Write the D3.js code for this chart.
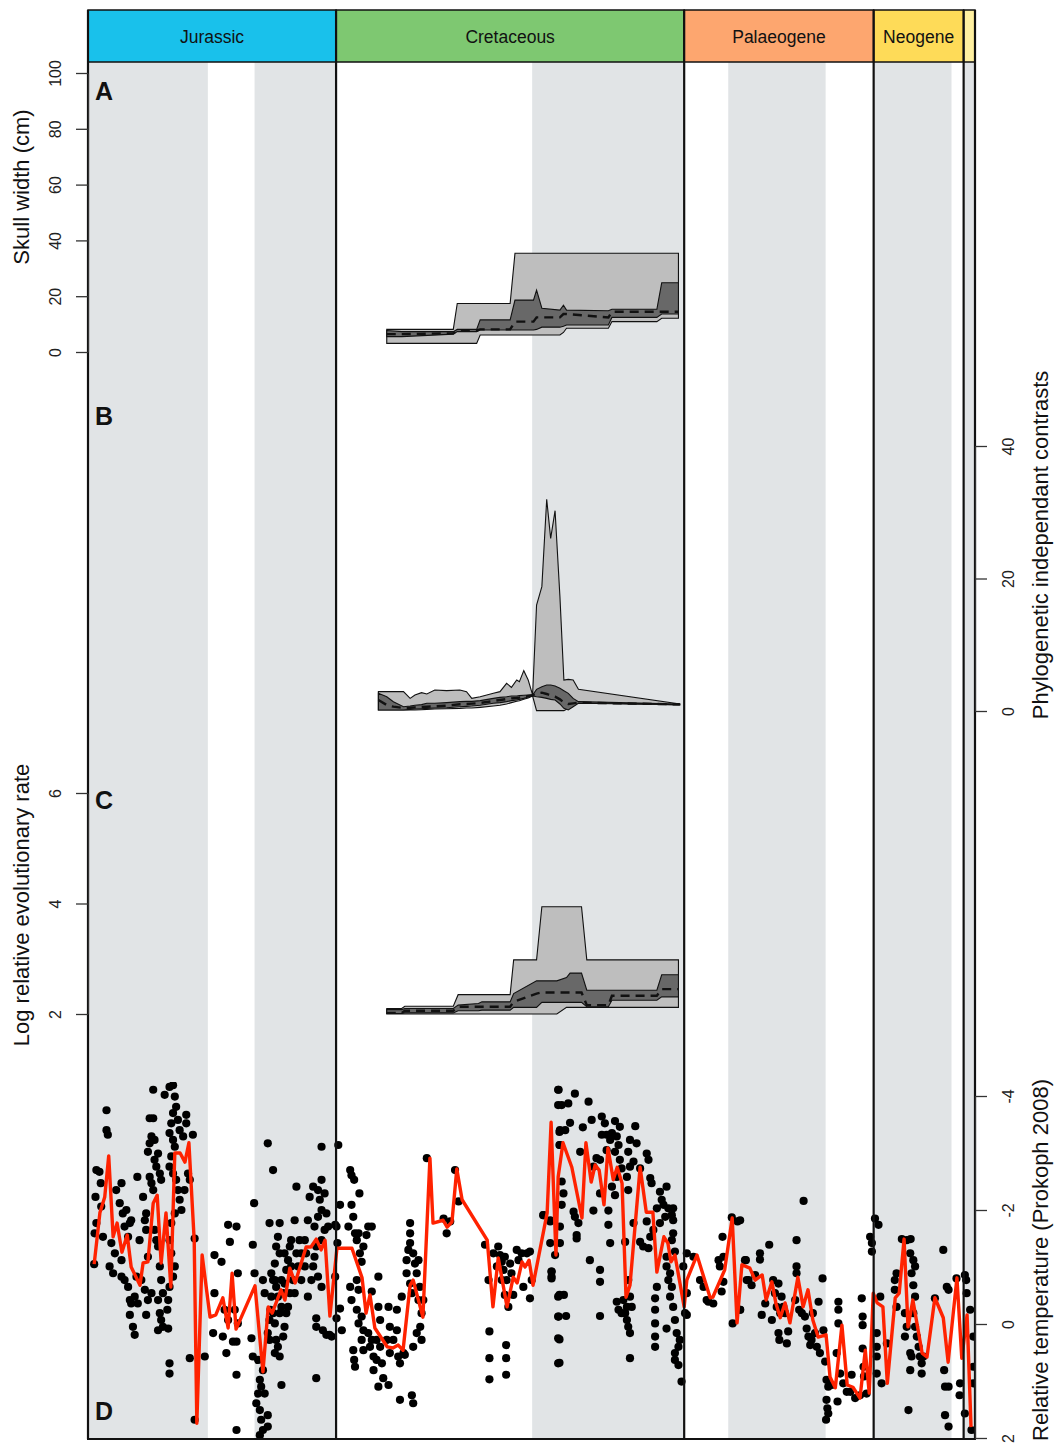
<!DOCTYPE html>
<html><head><meta charset="utf-8">
<script src="https://cdn.jsdelivr.net/npm/d3@7"></script>
<style>body{margin:0;background:#fff} text{font-family:"Liberation Sans",Arial,Helvetica,sans-serif}</style>
</head><body><svg id="c" width="1055" height="1445"></svg>
<script>
// ---- time scale ----
const periodNames = ["Jurassic","Cretaceous","Palaeogene","Neogene",""];
const periodBounds = [201.3,145,66,23,2.58,0];
const periodColors = ["#19C1EB","#7EC871","#FDA66F","#FEDB58","#FFF0A0"];
const stageBounds = [201.3,174.1,163.5,145,100.5,66,56,33.9,23,5.333,2.58,0];
const stageShaded = [1,0,1,0,1,0,1,0,1,0,1];

// ---- Panel A: skull width (cm) ----
const agesA = [133.5,130.1,118.4,117.5,113.1,112.3,105.5,104.4,100.2,99.5,98.3,94.2,93.4,92.7,83.2,82.4,72.2,71.1,67.3];
const outerMaxA = [8.1,8.1,8.1,17.4,17.4,17.4,17.4,35.4,35.4,35.4,35.4,35.4,35.4,35.4,35.4,35.4,35.4,35.4,35.4];
const outerMinA = [3.1,3.1,3.1,3.1,3.1,6.1,6.1,6.1,6.1,6.1,6.1,6.1,7.0,8.5,8.5,10.9,10.9,12.1,12.1];
const innerMaxA = [7.7,7.3,7.3,8.1,8.1,11.5,11.5,18.6,18.6,22.2,15.7,15.0,16.8,15.0,14.8,15.3,15.3,24.8,24.8];
const innerMinA = [5.5,5.5,6.4,7.3,7.3,7.9,7.9,7.9,7.9,8.1,8.9,8.9,9.2,9.7,9.7,12.4,12.4,13.6,13.6];
const medianA   = [6.4,6.4,6.7,7.7,7.7,8.1,8.1,10.9,10.9,12.4,12.4,12.4,13.6,13.6,12.4,14.4,14.4,14.4,14.4];

// ---- Panel B: phylogenetic independent contrasts ----
const agesB = [135.4,133.5,132.0,129.7,128.2,127.1,125.6,124.4,122.6,119.9,116.9,115.4,114.2,112.3,109.3,107.8,106.3,105.2,104.0,103.4,102.4,101.4,100.4,99.5,98.3,97.2,96.3,95.3,94.2,93.3,92.3,91.2,90.0,67.0];
const outerMaxB = [2.92,2.92,2.92,2.92,1.91,2.42,2.77,2.57,3.17,3.07,3.17,2.92,1.91,2.16,2.67,2.92,4.18,3.57,4.68,4.43,6.09,4.68,2.42,16.0,18.77,31.95,26.06,30.24,17.26,4.68,4.78,4.68,3.27,1.06];
const outerMinB = [0.15,0.15,0.15,0.15,0.15,0.15,0.20,0.25,0.30,0.35,0.40,0.45,0.45,0.55,0.75,0.86,1.06,1.26,1.46,1.56,1.76,1.96,2.26,0.05,0.05,0.05,0.05,0.05,0.05,0.05,0.40,0.91,1.26,0.91];
const innerMaxB = [2.67,2.16,1.41,0.65,0.75,0.86,0.96,1.16,1.16,1.26,1.41,1.46,1.46,1.56,1.91,2.06,2.16,2.26,2.26,2.32,2.37,2.42,2.42,3.27,3.67,3.92,3.92,3.77,3.42,3.07,2.67,1.91,1.41,1.06];
const innerMinB = [0.15,0.15,0.15,0.15,0.25,0.30,0.35,0.40,0.45,0.50,0.65,0.70,0.75,0.86,1.16,1.26,1.41,1.56,1.66,1.76,1.91,2.11,2.26,2.16,2.06,1.91,1.76,1.66,1.06,0.40,0.15,0.65,1.16,0.96];
const medianB   = [1.66,0.91,0.65,0.45,0.50,0.55,0.60,0.65,0.70,0.81,1.01,1.06,1.11,1.21,1.51,1.66,1.81,1.91,1.96,2.01,2.16,2.26,2.37,2.67,2.77,2.57,2.37,2.16,1.76,1.26,1.06,1.16,1.26,1.01];

// ---- Panel C: log relative evolutionary rate ----
const agesC = [133.5,130.1,129.4,118.4,117.3,112.7,111.9,105.5,104.7,99.5,98.3,94.9,92.7,91.9,89.3,88.1,83.2,82.4,72.2,71.1,67.3];
const outerMaxC = [2.10,2.10,2.14,2.14,2.35,2.35,2.35,2.35,2.98,2.98,3.94,3.94,3.94,3.94,3.94,2.98,2.98,2.98,2.98,2.98,2.98];
const outerMinC = [2.00,2.00,2.00,2.00,2.00,2.00,2.00,2.00,2.00,2.00,2.00,2.00,2.12,2.12,2.12,2.12,2.12,2.12,2.12,2.12,2.12];
const innerMaxC = [2.08,2.08,2.10,2.10,2.16,2.19,2.22,2.22,2.37,2.60,2.60,2.60,2.66,2.74,2.74,2.43,2.43,2.43,2.43,2.71,2.71];
const innerMinC = [2.01,2.01,2.02,2.02,2.06,2.06,2.07,2.07,2.12,2.12,2.21,2.21,2.21,2.21,2.21,2.13,2.13,2.25,2.25,2.31,2.31];
const medianC   = [2.02,2.02,2.06,2.06,2.13,2.13,2.13,2.13,2.22,2.37,2.39,2.39,2.39,2.39,2.39,2.16,2.16,2.33,2.33,2.45,2.45];

// ---- Panel D: relative temperature (Prokoph 2008) ----
const tempCurve = [[199.9,-1.05],[198.6,-1.95],[197.5,-2.23],[196.6,-2.95],[195.6,-1.53],[194.7,-1.77],[193.6,-1.26],[192.4,-1.56],[191.5,-1.0],[189.5,-0.68],[188.8,-1.07],[187.7,-1.09],[186.5,-2.12],[185.6,-2.26],[184.7,-1.07],[183.6,-1.95],[182.5,-0.65],[181.6,-3.0],[180.4,-3.0],[179.3,-2.84],[178.4,-3.18],[177.2,-1.47],[176.6,1.74],[175.4,-1.21],[173.6,-0.12],[172.3,-0.16],[170.7,-0.46],[169.5,0.07],[168.6,-0.89],[167.7,0.09],[163.4,-0.67],[161.6,0.84],[160.4,-0.30],[159.5,-0.19],[157.5,-0.6],[156.6,-0.42],[155.5,-0.98],[154.3,-0.72],[151.8,-1.35],[150.7,-1.35],[149.5,-1.49],[148.4,-1.3],[147.5,-1.47],[146.4,-0.14],[144.8,-1.33],[141.4,-1.33],[139.1,-0.81],[138.2,-0.19],[137.3,-0.51],[136.2,0.07],[133.4,0.40],[132.1,0.42],[130.9,0.37],[129.8,0.46],[128.2,-0.68],[127.5,-0.77],[125.3,-0.12],[123.7,-2.91],[123.0,-1.77],[120.7,-1.82],[119.8,-1.70],[118.7,-1.79],[117.6,-2.72],[116.4,-2.18],[110.7,-1.47],[109.4,-0.30],[108.2,-1.16],[106.2,-0.30],[104.8,-0.82],[103.9,-0.72],[102.8,-1.09],[102.1,-1.0],[101.2,-1.12],[100.3,-0.68],[97.1,-1.95],[96.2,-3.54],[95.1,-1.21],[94.6,-2.58],[93.5,-3.18],[91.5,-2.75],[89.2,-1.86],[88.3,-3.18],[87.1,-2.49],[86.2,-2.79],[85.3,-2.70],[84.2,-2.09],[83.3,-3.09],[82.1,-2.53],[81.2,-2.75],[80.1,-2.47],[79.2,-0.47],[78.3,-0.68],[76.0,-2.75],[74.6,-1.96],[73.1,-1.96],[72.2,-0.91],[70.6,-1.53],[69.7,-1.42],[69.0,-1.09],[68.1,-1.21],[66.0,-0.30],[65.4,-0.77],[63.1,-1.21],[60.1,-0.46],[59.5,-0.47],[56.8,-0.95],[55.1,-1.86],[54.0,-0.02],[52.9,-1.04],[51.1,-0.98],[49.9,-0.77],[48.3,-0.86],[47.4,-0.42],[46.1,-0.74],[45.2,-0.37],[44.2,-0.11],[43.1,-0.37],[42.0,-0.02],[40.2,-0.82],[39.0,-0.30],[37.9,-0.60],[36.8,-0.07],[35.6,0.23],[33.8,0.19],[32.9,0.93],[31.7,1.12],[30.2,0.02],[29.0,1.07],[27.7,1.11],[26.1,1.30],[24.9,0.46],[24.0,1.21],[23.1,-0.54],[22.2,-0.37],[20.9,-0.30],[19.9,1.04],[18.1,-0.46],[17.2,-0.54],[16.1,-1.49],[15.2,0.05],[14.1,-0.42],[12.0,0.51],[10.9,0.58],[9.1,-0.46],[7.2,-0.11],[6.1,0.67],[4.1,-0.81],[3.0,0.60],[1.8,-0.16],[0.9,1.81]];

const tempPoints = [
[199.9,-1.05],[199.8,-1.59],[199.4,-1.77],[199.6,-2.23],[199.4,-2.70],[198.7,-2.67],[198.4,-2.47],[198.3,-2.06],[197.9,-1.53],[197.1,-3.75],[197.1,-3.40],[196.8,-3.32],[196.0,-1.42],[196.4,-1.01],[195.6,-0.89],[195.2,-1.24],[194.9,-2.35],[194.1,-2.12],[193.7,-2.47],[193.4,-1.94],[193.0,-1.71],[192.6,-2.00],[192.2,-1.53],[191.8,-1.77],[191.5,-1.82],[193.7,-1.12],[193.7,-0.83],[193.0,-0.77],[192.2,-0.65],[191.8,-0.42],[191.5,-0.36],[190.7,-0.48],[190.0,-0.36],[191.8,-0.16],[191.1,0.05],[190.7,0.19],[190.3,-0.83],[190.1,-2.58],[189.6,-1.47],[188.8,-2.23],[188.4,-1.82],[188.1,-1.94],[188.1,-1.65],[187.7,-1.18],[189.2,-0.77],[188.4,-0.60],[187.7,-0.42],[186.9,-0.54],[187.3,-2.58],[186.9,-2.47],[186.5,-2.35],[186.2,-2.88],[187.7,-3.02],[187.3,-3.17],[186.9,-3.29],[186.2,-3.23],[186.5,-3.61],[187.3,-3.61],[186.5,-4.11],[185.4,-2.99],[185.8,-2.76],[185.0,-2.64],[184.7,-2.53],[186.2,-1.65],[185.8,-1.47],[185.4,-1.36],[185.0,-1.01],[184.7,-0.77],[184.3,-0.54],[185.4,-0.42],[185.0,-0.19],[184.7,-0.07],[185.4,0.11],[183.1,-0.42],[182.8,-0.65],[183.3,-0.25],[183.1,0.08],[184.3,0.05],[188.1,-0.16],[183.9,-4.02],[182.8,-4.16],[182.0,-4.19],[181.6,-3.99],[181.3,-3.81],[182.0,-3.70],[182.4,-3.52],[182.8,-3.35],[182.0,-3.23],[181.6,-3.11],[182.4,-2.94],[182.8,-2.76],[182.0,-2.64],[181.3,-2.53],[180.9,-2.35],[180.5,-2.18],[180.1,-2.00],[181.6,-1.94],[182.4,-1.77],[182.8,-1.47],[182.4,-1.24],[181.6,-1.01],[182.0,-0.83],[180.9,-3.58],[180.5,-3.40],[179.7,-3.29],[179.0,-3.67],[179.0,-3.52],[178.6,-2.64],[177.5,-3.32],[179.4,-2.35],[178.2,-2.53],[177.1,-1.50],[182.8,0.69],[182.8,0.87],[178.2,0.60],[177.1,1.68],
[172.6,-1.21],[171.0,-1.09],[169.5,-1.74],[167.6,-1.71],[169.1,-1.44],[167.3,-0.89],[172.6,-0.54],[170.3,-0.25],[169.5,-0.07],[168.0,-0.25],[167.3,-0.01],[172.9,0.16],[170.7,0.22],[169.9,0.51],[168.4,0.31],[167.6,0.31],[174.8,0.57],[167.6,0.89],[167.6,1.86],[164.2,0.25],[163.9,-1.39],[163.6,-2.12],[163.5,-0.89],
[163.9,0.57],[162.7,0.63],[162.3,0.98],[162.0,1.10],[162.7,1.22],[163.1,1.39],[162.3,1.51],[162.0,1.68],[161.6,1.86],[162.3,1.95],[160.5,1.60],[160.5,1.80],[161.2,1.22],[161.6,0.81],[160.5,0.16],[160.1,-0.07],[159.9,-0.25],[159.7,-0.48],[159.3,-0.77],[158.9,-1.06],[158.6,-1.36],[158.2,-1.53],[157.8,-1.77],[160.1,-1.77],[160.5,-3.17],[159.3,-2.70],[161.6,-0.77],[161.2,-0.54],[159.3,-0.19],[158.9,-0.01],[158.6,0.28],[158.2,0.40],[157.8,0.57],[157.4,1.07],[157.0,0.22],[156.7,0.05],[156.3,-0.19],[155.9,-0.30],[155.5,-0.54],[156.7,-0.71],[156.3,-0.95],[155.9,-1.12],[155.5,-1.36],[155.2,-1.47],[154.4,-1.82],[154.0,-2.41],[153.3,-1.47],[152.9,-1.24],[152.1,-1.01],[151.4,-0.48],[150.6,-0.77],[150.2,-1.01],[149.9,-1.18],[149.1,-0.83],[148.3,-0.65],[149.5,-1.36],[149.9,-1.71],[149.1,-1.88],[148.3,-2.00],[148.7,-2.18],[149.1,-2.35],[150.2,-2.41],[148.3,-2.53],[147.6,-2.29],[147.2,-1.94],[146.8,-1.71],[148.3,-3.11],[149.5,0.95],[149.5,-0.10],[149.5,0.05],[147.2,0.19],[146.5,0.19],[148.0,0.11],[147.6,-1.65],[148.3,-1.47],[151.0,-2.23],[151.4,-1.82],
[158.9,-0.77],[158.2,-0.48],[157.8,-0.19],[157.4,-0.77],[157.4,-0.30],[157.0,-0.54],[158.6,-0.65],[159.7,-0.89],[157.8,-1.24],[156.7,-1.24],[155.2,-1.01],[154.8,-0.77],[154.4,-0.54],[154.0,-1.24],[153.6,-1.01],[152.9,-0.77],[152.1,-1.47],[151.8,-1.24],[160.1,0.28],[158.9,0.51],
[144.9,-1.71],[145.2,-1.74],[144.7,-1.42],[144.5,-3.14],[144.1,-2.09],[145.2,-0.83],[144.1,-0.27],[144.9,-0.10],[143.7,0.11],[146.0,0.22],[142.2,-1.71],[141.8,-2.70],[141.5,-2.61],[140.9,-2.53],[141.5,-2.09],[141.1,-1.88],[140.7,-1.59],[140.3,-1.47],[139.7,-2.29],[139.9,-1.59],[139.6,-1.24],[139.2,-1.09],[138.8,-1.36],[138.1,-1.56],[137.7,-1.71],[136.9,-1.71],[140.3,-0.77],[139.9,-0.60],[141.8,-0.65],[141.5,-0.42],[140.3,-0.25],[139.9,-0.01],[139.2,-0.13],[138.8,0.11],[139.2,0.28],[138.8,0.46],[141.1,0.46],[140.9,0.63],[140.7,0.75],[137.7,0.16],[137.3,0.40],[136.9,-0.57],[136.9,0.28],[136.5,0.57],[136.5,0.81],[135.8,0.28],[135.8,0.63],[135.4,-0.83],[135.4,-0.30],[135.0,-0.07],[135.0,0.40],[134.6,0.69],[134.3,0.95],[135.4,1.10],[133.1,1.07],[133.5,0.28],[133.1,-0.30],[132.8,0.05],[132.8,0.51],[132.0,0.28],[131.2,-0.25],[131.2,0.11],[130.9,0.57],[130.5,0.69],[130.5,1.33],[130.1,-0.48],[129.7,0.51],[129.4,0.54],[128.2,-1.77],[128.2,-1.59],[128.2,-1.42],[128.6,-1.30],[129.0,-1.12],[129.0,-0.89],[128.2,-0.71],[127.8,-0.54],[127.5,-1.24],[127.1,-1.06],[126.7,-0.89],[126.3,-1.12],[126.0,-0.65],[126.3,-0.42],[125.6,-0.19],[125.9,0.05],[125.6,0.28],[126.7,0.16],[127.5,0.40],[127.8,1.25],[127.5,1.39],[124.4,-2.91],[125.2,-0.42],[118.0,-2.70],[117.2,-2.15],[119.9,-1.59],[120.6,-1.85],[119.1,-1.80],[111.2,-1.39],[110.4,-0.77],[110.2,0.13],[110.2,0.60],[110.2,0.97],[108.2,-1.36],[107.8,-1.21],[107.4,-1.09],[107.0,-0.95],[106.7,-1.18],[106.3,-0.77],[106.7,-0.51],[105.9,-0.30],[105.5,-1.06],[105.2,-0.89],[104.8,-0.51],[106.4,0.37],[106.4,0.60],[106.4,0.89],[104.0,-1.30],[103.6,-1.12],[102.9,-1.24],[102.5,-0.65],[101.7,-1.24],[101.0,-1.27],[101.0,-0.45],[100.6,-0.77],[109.3,-1.24],[108.5,-1.01],[107.4,-0.77],
[94.6,-4.11],[94.6,-3.84],[94.3,-3.37],[94.3,-3.14],[94.2,-1.42],[96.1,-0.92],[96.1,-0.80],[94.6,-0.48],[94.6,-0.13],[94.6,0.25],[94.6,0.69],[98.0,-1.91],[96.4,-1.80],
[94.5,-4.11],[90.8,-4.04],[87.7,-3.90],[93.8,-3.84],[92.3,-3.87],[91.9,-3.53],[94.2,-3.40],[93.0,-3.40],[89.0,-3.45],[87.0,-3.58],[94.2,-3.14],[89.6,-3.02],[84.7,-3.64],[84.0,-3.52],[81.7,-3.56],[80.6,-3.46],[77.1,-3.47],[84.7,-3.32],[83.6,-3.32],[82.4,-3.35],[81.3,-3.29],[80.9,-3.14],[78.3,-3.23],[76.8,-3.17],[82.8,-3.23],[83.6,-3.05],[81.7,-3.02],[78.7,-3.02],[85.9,-2.91],[85.1,-2.88],[80.6,-2.88],[77.5,-2.85],[74.5,-2.99],[74.1,-2.88],[86.6,-2.76],[80.2,-2.73],[78.3,-2.76],[76.0,-2.73],[81.3,-2.58],[79.0,-2.58],[73.7,-2.56],[93.8,-2.50],[82.4,-2.41],[78.7,-2.35],[73.4,-2.47],[71.5,-2.32],[70.0,-2.41],[93.4,-2.29],[85.1,-2.29],[81.7,-2.26],[71.1,-2.18],[72.2,-2.03],[70.7,-2.09],[69.6,-2.03],[68.5,-2.03],[97.9,-1.91],[93.8,-2.09],[91.1,-1.97],[90.8,-1.88],[90.0,-1.77],[86.6,-1.99],[83.2,-1.99],[77.5,-1.77],[74.5,-1.80],[73.0,-1.65],[71.5,-1.77],[70.3,-1.88],[68.8,-1.91],[68.5,-1.82],[96.4,-1.82],[94.2,-1.71],[83.2,-1.74],[82.8,-1.42],[90.4,-1.56],[90.4,-1.50],[96.4,-1.42],[79.4,-1.44],[76.0,-1.44],[75.3,-1.36],[73.7,-1.53],[74.1,-1.33],[68.5,-1.59],[68.8,-1.47],[68.1,-1.27],[70.0,-1.18],[95.3,-1.21],[87.4,-1.12],[96.1,-0.92],[96.1,-0.83],[85.1,-0.95],[85.1,-0.74],[78.7,-0.77],[72.2,-0.65],[72.6,-0.45],[70.0,-1.01],[69.6,-0.77],[69.2,-0.89],[68.8,-0.65],[69.2,-0.48],[68.5,-0.30],[68.1,-0.07],[67.7,0.16],[67.3,0.40],[68.1,0.51],[68.1,0.63],[67.3,0.72],[66.6,1.01],[67.0,0.28],[70.0,0.08],[72.6,-0.25],[72.6,-0.01],[72.6,0.22],[72.6,0.40],[94.3,-0.51],[93.3,-0.51],[94.5,-0.13],[92.8,-0.14],[94.3,0.27],[94.3,0.68],[85.1,-0.14],[81.3,-0.39],[80.9,-0.25],[79.8,-0.42],[79.4,-0.19],[79.0,-0.07],[78.7,0.05],[78.3,0.16],[77.9,-0.30],[79.0,-0.30],[78.3,0.60],[78.3,-0.48],[80.2,-0.19],
[65.4,-1.24],[63.9,-1.18],[66.2,-1.01],[65.4,-0.54],[65.8,-0.19],[65.4,-0.16],[62.4,-0.77],[61.6,-0.65],[60.9,-0.42],[59.4,-0.36],[58.2,-1.12],[57.9,-1.01],[57.1,-1.18],[57.3,-1.53],[57.1,-0.74],[57.5,-0.57],[55.2,-1.87],[53.9,-1.80],[55.0,-0.01],[53.3,-0.25],[52.2,-1.12],[51.4,-0.77],[60.5,-0.39],
[53.3,-1.82],[53.3,-0.25],[52.0,-1.12],[51.8,-0.77],[50.7,-0.68],[49.9,-0.86],[48.8,-1.24],[48.8,-1.13],[48.4,-0.16],[47.6,-0.36],[46.7,-1.39],[46.1,-0.07],[45.8,-0.77],[45.4,-0.54],[45.0,-0.30],[44.6,-0.71],[44.2,-0.19],[43.9,-0.48],[43.5,-0.30],[44.6,0.16],[44.4,0.28],[42.7,0.34],[42.4,0.13],[43.1,-0.19],[40.5,-1.47],[40.5,-1.01],[40.5,-0.89],[40.8,-0.42],[39.9,-0.25],[38.9,-2.16],[39.3,-0.19],[38.6,-0.13],[38.2,0.08],[37.8,0.22],[37.4,0.37],[37.1,0.28],[36.8,-0.19],[36.3,0.16],[35.9,0.40],[35.5,-0.39],[35.2,0.51],[34.6,-0.80],[34.4,0.11],[34.0,0.66],[33.7,0.98],[33.3,1.10],[33.7,1.33],[33.5,1.48],[33.3,1.57],[33.8,1.68],[32.5,1.07],[31.4,0.51],[31.0,-0.39],[31.0,-0.25],[31.0,-0.01],[31.2,1.36],[30.6,0.87],[29.9,1.04],[29.1,1.19],[28.3,1.19],[28.0,0.89],[27.2,1.30],[26.1,1.25],[25.7,-0.45],[25.5,-0.13],[25.5,0.02],[25.5,0.43],[25.3,0.75],[24.6,1.22],[25.2,0.92],[23.8,-1.53],[23.4,-1.42],[23.4,-1.27],[22.7,-1.85],[21.9,-1.74],[22.3,0.16],[22.3,0.40],[22.3,0.57],[22.3,0.87],[21.5,-0.48],[21.2,1.04],[20.0,0.34],[18.2,-0.77],[17.8,-0.89],[18.2,-0.60],[17.8,-0.30],[16.6,-1.49],[15.5,-1.47],[14.6,-1.49],[14.7,-1.24],[14.0,-1.12],[13.6,-1.01],[14.4,-0.89],[14.0,-0.68],[13.6,-0.48],[15.9,-0.19],[15.5,0.05],[15.9,0.22],[14.7,0.51],[14.7,0.81],[14.4,0.57],[14.0,-0.19],[13.6,0.05],[13.2,0.22],[12.8,0.40],[12.5,0.57],[12.1,0.69],[12.1,0.87],[11.7,0.57],[15.1,1.51],[9.1,-0.45],[7.2,-1.30],[7.0,0.81],[6.8,1.10],[6.0,1.10],[6.8,1.60],[6.0,1.80],[6.4,-0.65],[6.0,-0.60],[4.2,-0.80],[3.4,1.04],[3.5,1.25],[2.3,-0.86],[2.0,-0.77],[1.9,-0.54],[1.1,-0.25],[2.3,1.57],[0.4,0.22],[0.4,0.75],[0.4,1.04],[0.8,1.86]
];

// tick values
const ticksA = [0,20,40,60,80,100];
const ticksB = [0,20,40];
const ticksC = [2,4,6];
const ticksD = [-4,-2,0,2];

// ---- drawing ----
const svg = d3.select("#c");
const L = 88, R = 975, TOP = 10, HB = 62, BOT = 1438;
const x = d3.scaleLinear().domain([201.3, 0]).range([L, R]);
const yA = d3.scaleLinear().domain([0,100]).range([352,73]);
const yB = d3.scaleLinear().domain([0,40]).range([711,446]);
const yC = d3.scaleLinear().domain([2,6]).range([1014,793]);
const yD = d3.scaleLinear().domain([-4,2]).range([1096,1438]);

// background stage bands
stageShaded.forEach((s,i)=>{
  if(!s) return;
  svg.append("rect").attr("x", x(stageBounds[i])).attr("y", HB)
    .attr("width", x(stageBounds[i+1]) - x(stageBounds[i])).attr("height", BOT-HB)
    .attr("fill", "#E1E4E6");
});

// header
periodNames.forEach((n,i)=>{
  const x0 = x(periodBounds[i]), x1 = x(periodBounds[i+1]);
  svg.append("rect").attr("x",x0).attr("y",TOP).attr("width",x1-x0).attr("height",HB-TOP)
    .attr("fill",periodColors[i]).attr("stroke","#111").attr("stroke-width",1.5);
  if(n) svg.append("text").attr("x",(x0+x1)/2).attr("y",(TOP+HB)/2+7).attr("text-anchor","middle")
    .attr("font-size",17.5).attr("fill","#111").text(n);
});

svg.append("clipPath").attr("id","clipD").append("rect").attr("x",L).attr("y",1082).attr("width",R-L).attr("height",BOT-1082);

function bandPanel(ages, oMax, oMin, iMax, iMin, med, y){
  const g = svg.append("g");
  const idx = ages.map((d,i)=>i);
  const area = (hi, lo) => d3.area().x(i=>x(ages[i])).y0(i=>y(lo[i])).y1(i=>y(hi[i]));
  g.append("path").attr("d", area(oMax,oMin)(idx)).attr("fill","#BEBEBE").attr("stroke","#111").attr("stroke-width",1.1);
  g.append("path").attr("d", area(iMax,iMin)(idx)).attr("fill","#686868").attr("stroke","#111").attr("stroke-width",1.1);
  g.append("path").attr("d", d3.line().x(i=>x(ages[i])).y(i=>y(med[i]))(idx))
    .attr("fill","none").attr("stroke","#111").attr("stroke-width",2.4).attr("stroke-dasharray","9,6");
}
bandPanel(agesA, outerMaxA, outerMinA, innerMaxA, innerMinA, medianA, yA);
bandPanel(agesB, outerMaxB, outerMinB, innerMaxB, innerMinB, medianB, yB);
bandPanel(agesC, outerMaxC, outerMinC, innerMaxC, innerMinC, medianC, yC);

// panel D
const gD = svg.append("g").attr("clip-path","url(#clipD)");
gD.selectAll("circle").data(tempPoints).enter().append("circle")
  .attr("cx", d=>x(d[0])).attr("cy", d=>yD(d[1])).attr("r",4.1).attr("fill","#000");
gD.append("path").attr("d", d3.line().x(d=>x(d[0])).y(d=>yD(d[1]))(tempCurve))
  .attr("fill","none").attr("stroke","#FF2200").attr("stroke-width",3.4).attr("stroke-linejoin","round");

// period boundary lines + frame
periodBounds.forEach(b=>{
  svg.append("line").attr("x1",x(b)).attr("x2",x(b)).attr("y1",TOP).attr("y2",BOT+1)
    .attr("stroke","#111").attr("stroke-width",2.2);
});
svg.append("line").attr("x1",L-1).attr("x2",R+1).attr("y1",BOT+1).attr("y2",BOT+1).attr("stroke","#111").attr("stroke-width",2.2);

// axes
function styleAxis(g, side){
  g.selectAll(".domain").attr("stroke","#333").attr("stroke-width",1.2);
  g.selectAll(".tick line").attr("stroke","#333").attr("stroke-width",1.3);
  g.selectAll(".tick text").attr("x",null).attr("dy","0.35em").attr("text-anchor","middle")
    .attr("transform", `translate(${side==="left"?-33:33},0) rotate(-90)`)
    .attr("font-size",16).attr("fill","#222")
    .attr("font-family",'"Liberation Sans",Arial,sans-serif');
}
const axA = svg.append("g").attr("transform",`translate(${L},0)`).call(d3.axisLeft(yA).tickValues(ticksA).tickSize(12).tickSizeOuter(0).tickFormat(d3.format("d")));
styleAxis(axA,"left");
const axC = svg.append("g").attr("transform",`translate(${L},0)`).call(d3.axisLeft(yC).tickValues(ticksC).tickSize(12).tickSizeOuter(0).tickFormat(d3.format("d")));
styleAxis(axC,"left");
const axB = svg.append("g").attr("transform",`translate(${R},0)`).call(d3.axisRight(yB).tickValues(ticksB).tickSize(12).tickSizeOuter(0).tickFormat(d3.format("d")));
styleAxis(axB,"right");
const axD = svg.append("g").attr("transform",`translate(${R},0)`).call(d3.axisRight(yD).tickValues(ticksD).tickSize(12).tickSizeOuter(0).tickFormat(d=>String(d)));
styleAxis(axD,"right");

// axis titles
function vTitle(tx, ty, s){
  svg.append("text").attr("transform",`translate(${tx},${ty}) rotate(-90)`).attr("text-anchor","middle")
    .attr("dy","0.35em").attr("font-size",22).attr("fill","#111").text(s);
}
vTitle(21, 187, "Skull width (cm)");
vTitle(1040, 545, "Phylogenetic independant contrasts");
vTitle(21, 905, "Log relative evolutionary rate");
vTitle(1040, 1260, "Relative temperature (Prokoph 2008)");

// panel letters
[["A",100],["B",425],["C",809],["D",1420]].forEach(([t,yy])=>{
  svg.append("text").attr("x",95).attr("y",yy).attr("font-size",25).attr("font-weight","bold").attr("fill","#111").text(t);
});
</script></body></html>
